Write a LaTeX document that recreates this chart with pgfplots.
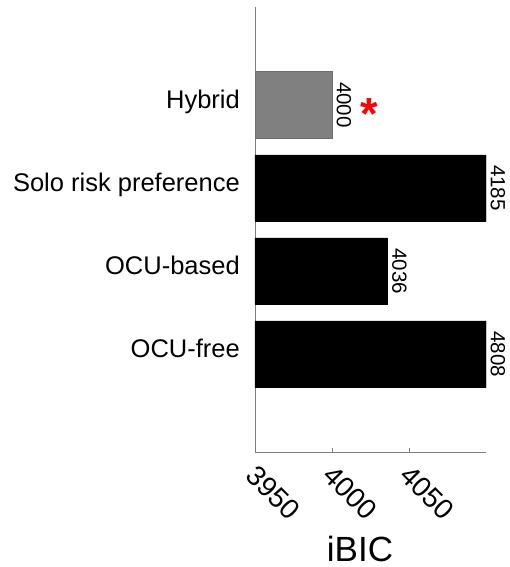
\documentclass[border=0pt]{standalone}
\usepackage{pgfplots}
\pgfplotsset{compat=1.18}
\usepackage{fontspec}
\setmainfont{Liberation Sans}
\definecolor{barGray}{RGB}{128,128,128}
\definecolor{edgeGray}{RGB}{110,110,110}
\definecolor{axGray}{RGB}{125,125,125}
\begin{document}
\begin{tikzpicture}
\begin{axis}[
  width=231pt, height=445pt, scale only axis,
  xbar, bar width=0.8, bar shift=0pt,
  xmin=3950, xmax=4100,
  ymin=-1.18, ymax=4.18,
  xtick={3950,4000,4050},
  ytick={0,1,2,3},
  yticklabels={OCU-free,OCU-based,Solo risk preference,Hybrid},
  axis x line*=bottom, axis y line*=left,
  axis line style={axGray, line width=0.8pt},
  tick align=inside,
  major tick length=4pt,
  xtick style={axGray, line width=0.6pt},
  ytick style={draw=none},
  /pgf/number format/assume math mode=true,
  /pgf/number format/1000 sep={},
  xticklabel style={font=\fontsize{28}{32}\selectfont, xshift=3pt, yshift=-11pt, rotate=-45, anchor=north west, inner sep=0pt},
  yticklabel style={font=\fontsize{25.5}{30}\selectfont, anchor=east, inner sep=0pt, xshift=-15pt, text depth=0pt, text height=0.716em},
  xlabel={iBIC},
  xlabel style={font=\fontsize{35}{40}\selectfont, at={(axis description cs:0.4545,0)}, anchor=base, yshift=-109pt},
  clip mode=individual,
  nodes near coords,
  point meta=rawx,
  nodes near coords style={font=\fontsize{20.5}{24}\selectfont, rotate=-90, anchor=south, inner xsep=0pt, inner ysep=4.5pt},
  x filter/.expression={x>4100 ? 4100 : x},
]
% Hybrid model
\addplot[fill=barGray, draw=edgeGray, line width=0.5pt] coordinates {(4000,3)};
% other models (two run past the axis limit)
\addplot[fill=black, draw=black, line width=0.5pt] coordinates {(4185,2) (4036,1) (4808,0)};
\node[text=red, font=\fontsize{45}{50}\selectfont\bfseries, anchor=base] at (axis cs:4024,2.70) {*};
\end{axis}
\pgfresetboundingbox
\useasboundingbox (-255pt,-115pt) rectangle (255pt,452pt);
\end{tikzpicture}
\end{document}
